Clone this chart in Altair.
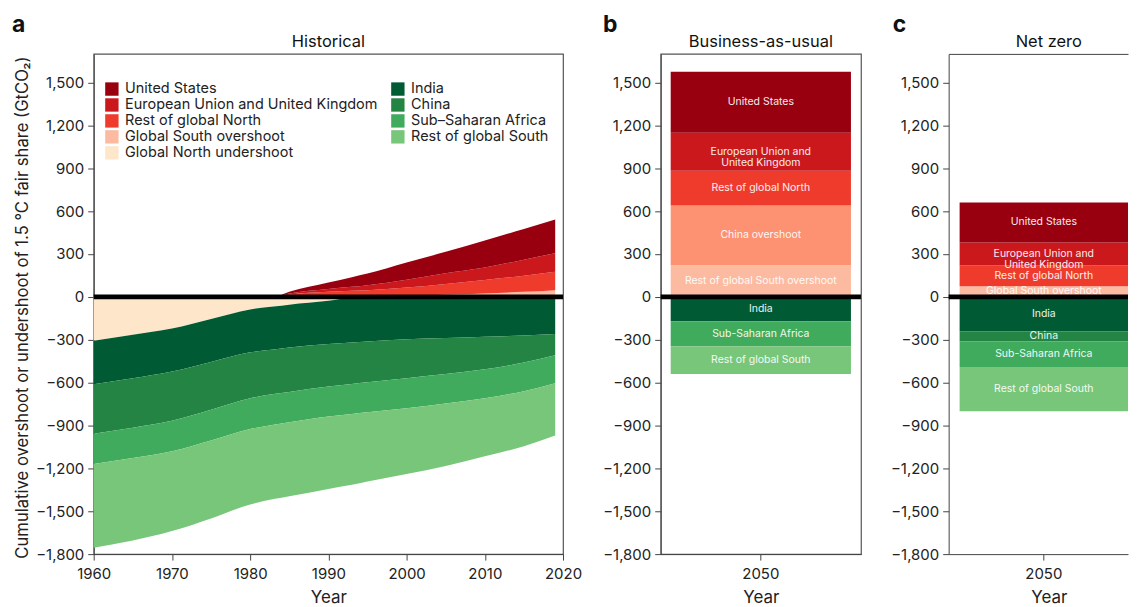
import altair as alt
import pandas as pd

FONT = "Inter"

# ---------------- Panel a: historical ----------------
years = [1960, 1965, 1970, 1975, 1980, 1983, 1985, 1990, 1993, 1995, 2000, 2005, 2010, 2015, 2019]

# positive layers (overshoot), stacked upward from zero in this order
global_south_overshoot = [0, 0, 0, 0, 0, 0, 0, 0, 0, 3, 7, 14, 24, 35, 47]
rest_global_north = [0, 0, 0, 0, 0, 0, 15, 35, 42, 44, 58, 76, 94, 113, 128]
eu_uk = [0, 0, 0, 0, 0, 0, 9, 20, 28, 35, 55, 75, 87, 112, 130]
united_states = [0, 0, 0, 0, 0, 0, 12, 45, 68, 81, 120, 150, 190, 215, 237]

# negative layers (undershoot), stacked downward from zero in this order
global_north_undershoot = [-307, -265, -222, -155, -88, -68, -55, -28, -5, 0, 0, 0, 0, 0, 0]
india = [-304, -305, -301, -300, -300, -300, -300, -302, -315, -312, -297, -288, -279, -270, -260]
china = [-346, -345, -344, -335, -321, -312, -310, -298, -290, -286, -272, -252, -228, -190, -149]
sub_saharan_africa = [-212, -213, -214, -215, -216, -215, -213, -209, -210, -210, -210, -206, -202, -200, -195]
rest_global_south = [-586, -577, -558, -545, -528, -520, -517, -507, -495, -484, -460, -437, -407, -385, -366]

# legend entries, filled column by column
legend_order = [
    "United States", "European Union and United Kingdom", "Rest of global North",
    "Global South overshoot", "Global North undershoot",
    "India", "China", "Sub–Saharan Africa", "Rest of global South",
]
legend_colors = [
    "#98000f", "#cb181d", "#ef3b2c", "#fcbba1", "#fee6cb",
    "#005a33", "#238443", "#41ab5d", "#78c67a",
]

pos_layers = [
    ("Global South overshoot", global_south_overshoot),
    ("Rest of global North", rest_global_north),
    ("European Union and United Kingdom", eu_uk),
    ("United States", united_states),
]
neg_layers = [
    ("Global North undershoot", global_north_undershoot),
    ("India", india),
    ("China", china),
    ("Sub–Saharan Africa", sub_saharan_africa),
    ("Rest of global South", rest_global_south),
]

rows = []
for i, yr in enumerate(years):
    for layers in (pos_layers, neg_layers):
        base = 0
        for name, vals in layers:
            rows.append({"year": yr, "series": name, "y0": base, "y1": base + vals[i]})
            base += vals[i]
hist_df = pd.DataFrame(rows)

# ---------------- Panels b and c ----------------
bau_categories = ["United States", "European Union and United Kingdom", "Rest of global North",
                  "China overshoot", "Rest of global South overshoot",
                  "India", "Sub-Saharan Africa", "Rest of global South"]
bau_labels = ["United States", "European Union and\nUnited Kingdom", "Rest of global North",
              "China overshoot", "Rest of global South overshoot",
              "India", "Sub-Saharan Africa", "Rest of global South"]
bau_values = [426, 266, 243, 419, 221, -170, -175, -195]
bau_colors = ["#98000f", "#cb181d", "#ef3b2c", "#fc9272", "#fcbba1", "#005a33", "#41ab5d", "#78c67a"]

nz_categories = ["United States", "European Union and United Kingdom", "Rest of global North",
                 "Global South overshoot",
                 "India", "China", "Sub-Saharan Africa", "Rest of global South"]
nz_labels = ["United States", "European Union and\nUnited Kingdom", "Rest of global North",
             "Global South overshoot",
             "India", "China", "Sub-Saharan Africa", "Rest of global South"]
nz_values = [279, 160, 146, 75, -240, -70, -180, -310]
nz_colors = ["#98000f", "#cb181d", "#ef3b2c", "#fcbba1", "#005a33", "#238443", "#41ab5d", "#78c67a"]

scenario_x = ["2050"]

y_ticks = list(range(-1800, 1501, 300))
y_domain = [-1800, 1700]

AX = dict(grid=False, tickSize=6, labelFontSize=15, titleFontSize=17, titleFontWeight="normal",
          labelFlush=False)


def bar_frame(cats, labels, vals):
    pos = [(c, l, v) for c, l, v in zip(cats, labels, vals) if v > 0][::-1]
    neg = [(c, l, v) for c, l, v in zip(cats, labels, vals) if v < 0]
    out = []
    for group in (pos, neg):
        base = 0
        for c, l, v in group:
            out.append({"x": scenario_x[0], "cat": c, "label": l, "y0": base, "y1": base + v,
                        "mid": base + v / 2})
            base += v
    return pd.DataFrame(out)


def y_axis(title=None, **extra):
    kw = dict(values=y_ticks, format=",.0f", labelPadding=4, **AX)
    kw.update(extra)
    return alt.Axis(title=title, **kw) if title else alt.Axis(title=None, **kw)


def note(txt, dx, dy, size, weight, align):
    return alt.Chart(pd.DataFrame({"t": [txt]})).mark_text(
        align=align, baseline="alphabetic", fontSize=size, fontWeight=weight, color="#111111", font=FONT
    ).encode(text="t:N", x=alt.value(dx), y=alt.value(dy))


zero_df = pd.DataFrame({"z": [0]})


def zero_rule():
    return alt.Chart(zero_df).mark_rule(color="black", strokeWidth=5).encode(y="z:Q")


areas = alt.Chart(hist_df).mark_area(interpolate="monotone").encode(
    x=alt.X("year:Q", scale=alt.Scale(domain=[1960, 2020], nice=False),
            axis=alt.Axis(title="Year", values=list(range(1960, 2021, 10)), format="d",
                          labelPadding=6, titlePadding=9, **AX)),
    y=alt.Y("y1:Q", scale=alt.Scale(domain=y_domain, nice=False, zero=False),
            axis=y_axis("Cumulative overshoot or undershoot of 1.5 °C fair share (GtCO₂)",
                        titleX=-62, titleY=254, titleFontSize=16.7)),
    y2="y0:Q",
    color=alt.Color("series:N", scale=alt.Scale(domain=legend_order, range=legend_colors),
                    legend=alt.Legend(title=None, orient="none", legendX=11, legendY=28, columns=2,
                                      symbolType="square", symbolSize=180, symbolStrokeWidth=0,
                                      symbolOpacity=1, labelFontSize=14.5, labelOffset=6,
                                      rowPadding=1, columnPadding=13, labelLimit=400, padding=0)),
    detail="series:N",
)

panel_a = alt.layer(
    areas, zero_rule(),
    note("a", -82, -22, 23, "bold", "left"),
    note("Historical", 235.5, -7, 16.5, "normal", "center"),
).properties(width=471, height=502)


def bar_panel(cats, labels, vals, colors, title, title_x, let, let_dx, width, pad_in, pad_out, align,
              open_right):
    df = bar_frame(cats, labels, vals)
    base = alt.Chart(df)
    bars = base.mark_bar().encode(
        x=alt.X("x:N", scale=alt.Scale(paddingInner=pad_in, paddingOuter=pad_out, align=align),
                axis=alt.Axis(title="Year", labelAngle=0, labelPadding=6, titlePadding=9,
                              titleX=title_x, **AX)),
        y=alt.Y("y1:Q", scale=alt.Scale(domain=y_domain, nice=False, zero=False), axis=y_axis()),
        y2="y0:Q",
        color=alt.Color("cat:N", scale=alt.Scale(domain=cats, range=colors), legend=None),
    )
    if open_right:
        text_x = alt.X("x:N", axis=alt.Axis(orient="top", labels=False, ticks=False, title=None,
                                            domain=True, grid=False))
    else:
        text_x = alt.X("x:N")
    text = base.mark_text(color="white", fontSize=10.5, lineBreak="\n", lineHeight=11,
                          font=FONT, opacity=0.92).encode(
        x=text_x, y="mid:Q", text="label:N")
    layer = alt.layer(
        bars, text, zero_rule(),
        note(let, let_dx, -22, 23, "bold", "left"),
        note(title, title_x, -7, 16.5, "normal", "center"),
    ).properties(width=width, height=502)
    if open_right:
        layer = layer.resolve_axis(x="independent").properties(
            view=alt.ViewBackground(stroke="transparent"))
    return layer


panel_b = bar_panel(bau_categories, bau_labels, bau_values, bau_colors, "Business-as-usual", 100.5,
                    "b", -58, 201, 0.1, 0.05, 0.5, False)
panel_c = bar_panel(nz_categories, nz_labels, nz_values, nz_colors, "Net zero", 100.5,
                    "c", -56, 180, 0.1, 0.0293, 1.0, True)

inner = alt.hconcat(panel_b, panel_c, spacing=88, bounds="flush").resolve_scale(
    color="independent", x="independent", y="independent")

chart = alt.hconcat(panel_a, inner, spacing=98, bounds="flush").resolve_scale(
    color="independent", x="independent", y="independent"
).properties(
    padding={"left": 3, "top": 4, "right": 0, "bottom": 0}
).configure(font=FONT).configure_view(
    stroke="#555555", strokeWidth=1.2
).configure_axis(
    domainColor="#444444", tickColor="#444444", labelColor="#222222", titleColor="#222222",
    labelFont=FONT, titleFont=FONT
).configure_legend(labelFont=FONT, labelColor="#222222")

chart.save("out.html", embed_options={"renderer": "svg", "actions": False})
